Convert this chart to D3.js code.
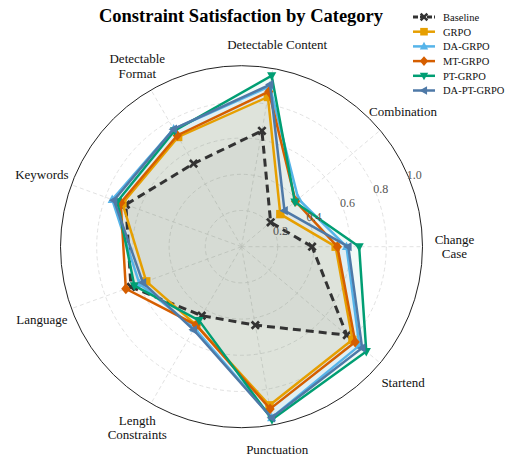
<!DOCTYPE html>
<html><head><meta charset="utf-8">
<script src="https://cdn.jsdelivr.net/npm/d3@7"></script>
<style>html,body{margin:0;padding:0;background:#fff;}</style>
</head><body>
<svg id="c" width="508" height="456"></svg>
<script>
const categories = [["Change","Case"],["Combination"],["Detectable Content"],["Detectable","Format"],["Keywords"],["Language"],["Length","Constraints"],["Punctuation"],["Startend"]];
const seriesNames = ["Baseline","GRPO","DA-GRPO","MT-GRPO","PT-GRPO","DA-PT-GRPO"];
const baseline  = [0.39,0.21,0.65,0.53,0.68,0.65,0.44,0.44,0.76];
const grpo      = [0.52,0.28,0.84,0.70,0.70,0.56,0.50,0.89,0.80];
const daGrpo    = [0.58,0.41,0.90,0.75,0.76,0.60,0.52,0.96,0.85];
const mtGrpo    = [0.53,0.39,0.87,0.71,0.71,0.68,0.50,0.91,0.82];
const ptGrpo    = [0.65,0.385,0.96,0.74,0.73,0.63,0.47,0.97,0.90];
const daPtGrpo  = [0.59,0.31,0.91,0.75,0.75,0.58,0.53,0.96,0.87];
const radialTicks = [0.2,0.4,0.6,0.8,1.0];
const title = "Constraint Satisfaction by Category";

const seriesValues = [baseline,grpo,daGrpo,mtGrpo,ptGrpo,daPtGrpo];
const colors = ["#333333","#E69F00","#56B4E9","#D55E00","#009E73","#4E79A7"];
const markers = ["x","square","triUp","diamond","triDown","triLeft"];

const svg = d3.select("#c");
const cx = 241.5, cy = 246.7, R = 181;
const r = d3.scaleLinear().domain([0,1]).range([0,R]);
const n = categories.length;
const ang = i => Math.PI/2 - i*2*Math.PI/n; // d3 radial angle (clockwise from top)
const g = svg.append("g").attr("transform",`translate(${cx},${cy})`);

g.selectAll("circle.grid").data(radialTicks.filter(t=>t<1)).join("circle")
  .attr("r",d=>r(d)).attr("fill","none").attr("stroke","#d9d9d9").attr("stroke-width",0.8).attr("stroke-dasharray","4,3");
g.selectAll("line.spoke").data(d3.range(n)).join("line")
  .attr("x1",0).attr("y1",0)
  .attr("x2",i=>r(1)*Math.sin(ang(i))).attr("y2",i=>-r(1)*Math.cos(ang(i)))
  .attr("stroke","#d9d9d9").attr("stroke-width",0.8).attr("stroke-dasharray","4,3");

const line = d3.lineRadial().angle((d,i)=>ang(i)).radius(d=>r(d)).curve(d3.curveLinearClosed);

function symbolPath(type, s){
  switch(type){
    case "square": return `M${-s},${-s}H${s}V${s}H${-s}Z`;
    case "diamond": return `M0,${-s*1.3}L${s*1.1},0L0,${s*1.3}L${-s*1.1},0Z`;
    case "triUp": return `M0,${-s*1.2}L${s*1.1},${s*0.8}L${-s*1.1},${s*0.8}Z`;
    case "triDown": return `M0,${s*1.2}L${s*1.1},${-s*0.8}L${-s*1.1},${-s*0.8}Z`;
    case "triLeft": return `M${-s*1.2},0L${s*0.8},${-s*1.1}L${s*0.8},${s*1.1}Z`;
    case "x": {
      const a=s*1.1,w=s*0.45;
      return `M${-a},${-a+w}L${-a+w},${-a}L0,${-w}L${a-w},${-a}L${a},${-a+w}L${w},0L${a},${a-w}L${a-w},${a}L0,${w}L${-a+w},${a}L${-a},${a-w}L${-w},0Z`;
    }
  }
}

seriesValues.forEach((vals,k)=>{
  g.append("path").attr("d",line(vals)).attr("fill",colors[k]).attr("fill-opacity",0.05).attr("stroke","none");
});
seriesValues.forEach((vals,k)=>{
  g.append("path").attr("d",line(vals)).attr("fill","none").attr("stroke",colors[k])
    .attr("stroke-width",k===0?3:2.5).attr("stroke-dasharray",k===0?"8,5":null).attr("stroke-linejoin","miter");
  g.selectAll(null).data(vals).join("path")
    .attr("transform",(d,i)=>`translate(${r(d)*Math.sin(ang(i))},${-r(d)*Math.cos(ang(i))})`)
    .attr("d",symbolPath(markers[k],4.2)).attr("fill",colors[k]);
});

g.append("circle").attr("r",r(1)).attr("fill","none").attr("stroke","#222").attr("stroke-width",1);

const ta = 22.5*Math.PI/180;
g.selectAll("text.rt").data(radialTicks).join("text")
  .attr("x",d=>(r(d)+6)*Math.cos(ta)).attr("y",d=>-(r(d)+6)*Math.sin(ta)+4)
  .attr("text-anchor","middle").attr("font-family","Liberation Serif, serif").attr("font-size",12)
  .attr("fill","#555").text(d=>d.toFixed(1));

categories.forEach((lines,i)=>{
  const hx = Math.abs(Math.sin(ang(i)));
  const LR = 204 + 9*hx;
  const x = LR*Math.sin(ang(i)), y = -LR*Math.cos(ang(i));
  const t = g.append("text").attr("text-anchor","middle").attr("font-family","Liberation Serif, serif")
    .attr("font-size",13).attr("fill","#111");
  const lh = 14.5;
  lines.forEach((ln,j)=>{
    t.append("tspan").attr("x",x).attr("y",y + 4.5 + (j-(lines.length-1)/2)*lh).text(ln);
  });
});

svg.append("text").attr("x",241).attr("y",22).attr("text-anchor","middle")
  .attr("font-family","Liberation Serif, serif").attr("font-weight","bold").attr("font-size",18.5)
  .attr("fill","#000").text(title);

const lg = svg.append("g").attr("transform","translate(413,17)");
seriesNames.forEach((name,k)=>{
  const row = lg.append("g").attr("transform",`translate(0,${k*14.7})`);
  row.append("line").attr("x1",0).attr("x2",22).attr("y1",0).attr("y2",0).attr("stroke",colors[k])
    .attr("stroke-width",k===0?3:2.5).attr("stroke-dasharray",k===0?"5,2":null);
  row.append("path").attr("transform","translate(11,0)").attr("d",symbolPath(markers[k],3.8)).attr("fill",colors[k]);
  row.append("text").attr("x",30).attr("y",3.8).attr("font-family","Liberation Serif, serif")
    .attr("font-size",10.5).attr("fill","#111").text(name);
});
</script>
</body></html>
